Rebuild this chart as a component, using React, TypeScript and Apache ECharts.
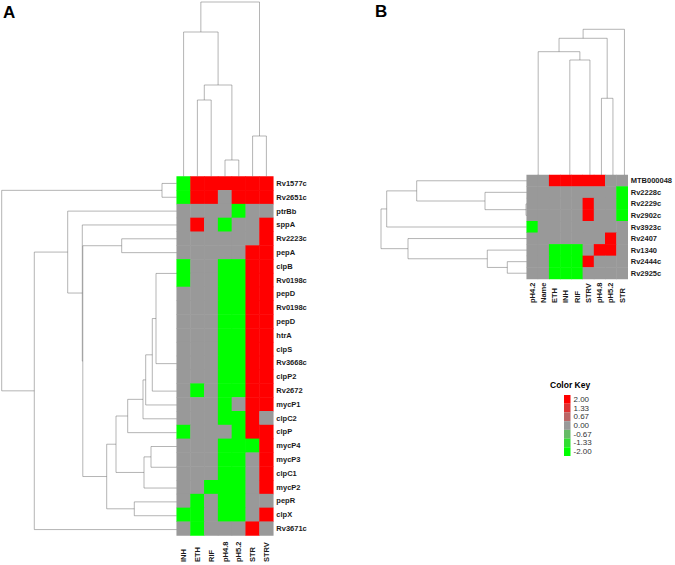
import React, { useEffect, useRef } from 'react';
import * as echarts from 'echarts';

// ---------- Panel A ----------
const colsA = ['INH', 'ETH', 'RIF', 'pH4.8', 'pH5.2', 'STR', 'STRV'];
const rowsA = ['Rv1577c', 'Rv2651c', 'ptrBb', 'sppA', 'Rv2223c', 'pepA', 'clpB', 'Rv0198c', 'pepD', 'Rv0198c', 'pepD', 'htrA', 'clpS', 'Rv3668c', 'clpP2', 'Rv2672', 'mycP1', 'clpC2', 'clpP', 'mycP4', 'mycP3', 'clpC1', 'mycP2', 'pepR', 'clpX', 'Rv3671c'];
const valuesA = [
  [-2, 2, 2, 2, 2, 2, 2],
  [-2, 2, 2, 0, 2, 2, 2],
  [0, 0, 0, 0, -2, 0, 0],
  [0, 2, 0, -2, 0, 0, 2],
  [0, 0, 0, 0, 0, 0, 2],
  [0, 0, 0, 0, 0, 2, 2],
  [-2, 0, 0, -2, -2, 2, 2],
  [-2, 0, 0, -2, -2, 2, 2],
  [0, 0, 0, -2, -2, 2, 2],
  [0, 0, 0, -2, -2, 2, 2],
  [0, 0, 0, -2, -2, 2, 2],
  [0, 0, 0, -2, -2, 2, 2],
  [0, 0, 0, -2, -2, 2, 2],
  [0, 0, 0, -2, -2, 2, 2],
  [0, 0, 0, -2, -2, 2, 2],
  [0, -2, 0, -2, -2, 2, 2],
  [0, 0, 0, -2, 0, 2, 2],
  [0, 0, 0, -2, -2, 2, 0],
  [-2, 0, 0, 0, -2, 2, 2],
  [0, 0, 0, -2, -2, -2, 2],
  [0, 0, 0, -2, -2, 0, 2],
  [0, 0, 0, -2, -2, 0, 2],
  [0, 0, -2, -2, -2, 0, 2],
  [0, -2, 0, -2, -2, 0, 0],
  [-2, -2, 0, -2, -2, 0, 2],
  [0, -2, 0, 0, 0, 2, 0],
];
// merges: [a, b, height]; negative = leaf -(i+1), positive = earlier merge (1-based)
const rowMergesA = [
  [-9, -10, 0], [1, -11, 0], [2, -12, 0], [3, -13, 0], [4, -14, 0], [5, -15, 0],
  [-7, -8, 0], [7, 6, 20.7], [8, -16, 24.4], [9, -17, 31], [10, -18, 33.7], [11, -19, 49],
  [-21, -22, 0], [-20, 13, 25.7], [14, -23, 32.7], [12, 15, 60.7], [-24, -25, 42.4],
  [16, 17, 70], [-5, -6, 55], [19, 18, 93.9], [-4, 20, 94.4], [-3, 21, 109],
  [22, -26, 142.4], [-1, -2, 14.7], [24, 23, 175],
];
const colMergesA = [
  [-4, -5, 16.5], [-2, -3, 76.5], [2, 1, 91.5], [-1, 3, 144.5], [-6, -7, 40.5], [4, 5, 174.5],
];

// ---------- Panel B ----------
const colsB = ['pH4.2', 'Name', 'ETH', 'INH', 'RIF', 'STRV', 'pH4.8', 'pH5.2', 'STR'];
const rowsB = ['MTB000048', 'Rv2228c', 'Rv2229c', 'Rv2902c', 'Rv3923c', 'Rv2407', 'Rv1340', 'Rv2444c', 'Rv2925c'];
const valuesB = [
  [0, 0, 2, 2, 2, 2, 2, 0, 0],
  [0, 0, 0, 0, 0, 0, 0, 0, -2],
  [0, 0, 0, 0, 0, 2, 0, 0, -2],
  [0, 0, 0, 0, 0, 2, 0, 0, -2],
  [-2, 0, 0, 0, 0, 0, 0, 0, 0],
  [0, 0, 0, 0, 0, 0, 0, 2, 0],
  [0, 0, -2, -2, -2, 0, 2, 2, 0],
  [0, 0, -2, -2, -2, 2, 0, 0, 0],
  [0, 0, -2, -2, -2, 0, 0, 0, 0],
];
const rowMergesB = [
  [-3, -4, 0.7], [-2, 1, 41.7], [-1, 2, 110], [3, -5, 140], [-8, -9, 19.4],
  [-7, 5, 39.4], [-6, 6, 118.7], [4, 7, 145.7],
];
const colMergesB = [
  [-3, -4, 0], [1, -5, 0], [2, -6, 115], [-1, -2, 0], [4, 3, 123.3],
  [-7, -8, 76.7], [5, 6, 136.7], [7, -9, 145.7],
];

// ---------- Color key ----------
const keyValues = [2, 1.33, 0.67, 0, -0.67, -1.33, -2];
const keyTicks = [2, 1.33, 0.67, 0, -0.67, -1.33, -2];

const RED = [255, 0, 0];
const GRAY = [153, 153, 153];
const GREEN = [0, 255, 0];

function valueColor(v: number) {
  const t = Math.min(1, Math.abs(v) / 2);
  const end = v >= 0 ? RED : GREEN;
  const c = GRAY.map((g, i) => Math.round(g + (end[i] - g) * t));
  return `rgb(${c[0]},${c[1]},${c[2]})`;
}

function dendro(merges: number[][], swap: boolean) {
  const pos: number[] = [];
  const hts: number[] = [];
  const lines: any[] = [];
  const get = (r: number) => (r < 0 ? [-r - 1 + 0.5, 0] : [pos[r - 1], hts[r - 1]]);
  merges.forEach(([a, b, h]) => {
    const [p1, h1] = get(a);
    const [p2, h2] = get(b);
    pos.push((p1 + p2) / 2);
    hts.push(h);
    if (h > 0) {
      const pts = [[p1, h1], [p1, h], [p2, h], [p2, h2]];
      lines.push({ coords: swap ? pts.map(([p, q]) => [q, p]) : pts });
    }
  });
  return lines;
}

const FONT = '"Liberation Sans", Arial, sans-serif';
const LINE = { color: '#6b6b6b', width: 1 };

export default function App() {
  const ref = useRef<HTMLDivElement>(null);
  useEffect(() => {
    if (!ref.current) return;
    const chart = echarts.init(ref.current, null, { renderer: 'svg' });
    const heatA = valuesA.flatMap((row, r) => row.map((v, c) => [c, r, v]));
    const heatB = valuesB.flatMap((row, r) => row.map((v, c) => [c, r, v]));
    const hidden = { show: false };
    const catLabel = { fontFamily: FONT, fontWeight: 'bold', fontSize: 7.5, color: '#1a1a1a' };
    const option: any = {
      animation: false,
      backgroundColor: '#ffffff',
      grid: [
        { left: 176.7, top: 176.5, width: 96.6, height: 360 },
        { left: 176.7, top: 0, width: 96.6, height: 176.5 },
        { left: 0, top: 176.5, width: 176.7, height: 360 },
        { left: 526.7, top: 175, width: 103.5, height: 104 },
        { left: 526.7, top: 0, width: 103.5, height: 175 },
        { left: 376.7, top: 175, width: 150, height: 104 },
        { left: 564, top: 395, width: 6.5, height: 61 },
      ],
      xAxis: [
        { type: 'category', gridIndex: 0, data: colsA, position: 'bottom', axisLine: hidden, axisTick: hidden, splitLine: hidden,
          axisLabel: { ...catLabel, rotate: 90, align: 'left', verticalAlign: 'middle', margin: 26.5, interval: 0 } },
        { type: 'value', gridIndex: 1, min: 0, max: 7, show: false },
        { type: 'value', gridIndex: 2, min: 0, max: 176.7, inverse: true, show: false },
        { type: 'category', gridIndex: 3, data: colsB, position: 'bottom', axisLine: hidden, axisTick: hidden, splitLine: hidden,
          axisLabel: { ...catLabel, rotate: 90, align: 'left', verticalAlign: 'middle', margin: 24, interval: 0 } },
        { type: 'value', gridIndex: 4, min: 0, max: 9, show: false },
        { type: 'value', gridIndex: 5, min: 0, max: 150, inverse: true, show: false },
        { type: 'value', gridIndex: 6, min: 0, max: 1, show: false },
      ],
      yAxis: [
        { type: 'category', gridIndex: 0, data: rowsA, inverse: true, position: 'right', axisLine: hidden, axisTick: hidden, splitLine: hidden,
          axisLabel: { ...catLabel, margin: 3, interval: 0 } },
        { type: 'value', gridIndex: 1, min: 0, max: 176.5, show: false },
        { type: 'value', gridIndex: 2, min: 0, max: rowsA.length, inverse: true, show: false },
        { type: 'category', gridIndex: 3, data: rowsB, inverse: true, position: 'right', axisLine: hidden, axisTick: hidden, splitLine: hidden,
          axisLabel: { ...catLabel, margin: 3, interval: 0 } },
        { type: 'value', gridIndex: 4, min: 0, max: 175, show: false },
        { type: 'value', gridIndex: 5, min: 0, max: rowsB.length, inverse: true, show: false },
        { type: 'value', gridIndex: 6, min: -2.3333, max: 2.3333, position: 'right', axisLine: hidden, axisTick: hidden, splitLine: hidden,
          axisLabel: { customValues: keyTicks, margin: 3, fontFamily: FONT, fontSize: 8, color: '#333',
            formatter: (v: number) => (Math.abs(v) < 1e-9 ? 0 : v).toFixed(2) } },
      ],
      visualMap: [{
        type: 'piecewise', show: false, seriesIndex: [0, 1], dimension: 2,
        pieces: [
          { value: -2, color: valueColor(-2) },
          { value: 0, color: valueColor(0) },
          { value: 2, color: valueColor(2) },
        ],
      }],
      series: [
        { type: 'heatmap', xAxisIndex: 0, yAxisIndex: 0, data: heatA, silent: true },
        { type: 'heatmap', xAxisIndex: 3, yAxisIndex: 3, data: heatB, silent: true },
        { type: 'lines', coordinateSystem: 'cartesian2d', xAxisIndex: 1, yAxisIndex: 1, polyline: true, silent: true,
          lineStyle: LINE, data: dendro(colMergesA, false) },
        { type: 'lines', coordinateSystem: 'cartesian2d', xAxisIndex: 2, yAxisIndex: 2, polyline: true, silent: true,
          lineStyle: LINE, data: dendro(rowMergesA, true) },
        { type: 'lines', coordinateSystem: 'cartesian2d', xAxisIndex: 4, yAxisIndex: 4, polyline: true, silent: true,
          lineStyle: LINE, data: dendro(colMergesB, false) },
        { type: 'lines', coordinateSystem: 'cartesian2d', xAxisIndex: 5, yAxisIndex: 5, polyline: true, silent: true,
          lineStyle: LINE, data: dendro(rowMergesB, true) },
        { type: 'custom', xAxisIndex: 6, yAxisIndex: 6, silent: true,
          data: keyValues.map((v) => [v - 0.3333, v + 0.3333, v]),
          renderItem: (params: any, api: any) => {
            const lo = api.coord([0, api.value(0)]);
            const hi = api.coord([1, api.value(1)]);
            return { type: 'rect', shape: { x: lo[0], y: hi[1], width: hi[0] - lo[0], height: lo[1] - hi[1] },
              style: { fill: valueColor(api.value(2)) } };
          } },
      ],
      graphic: [
        { type: 'text', left: 3, top: 4, style: { text: 'A', font: `bold 17px ${FONT}`, fill: '#000' } },
        { type: 'text', left: 375, top: 3, style: { text: 'B', font: `bold 17px ${FONT}`, fill: '#000' } },
        { type: 'text', left: 550, top: 380, style: { text: 'Color Key', font: `bold 8.5px ${FONT}`, fill: '#000' } },
      ],
    };
    chart.setOption(option);
    return () => chart.dispose();
  }, []);
  return <div ref={ref} style={{ position: 'fixed', left: 0, top: 0, width: 675, height: 565 }} />;
}
